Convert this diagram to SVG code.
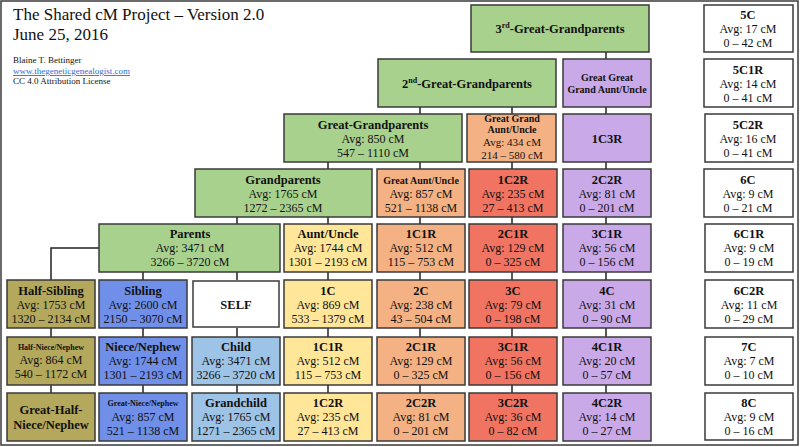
<svg xmlns="http://www.w3.org/2000/svg" width="800" height="447" viewBox="0 0 800 447">
<style>
text{font-family:"Liberation Serif","Times New Roman",serif;fill:#111;text-anchor:middle}
.b{font-weight:bold;font-size:12.5px}
.n{font-size:12px}
.t{font-size:11px}
.s{font-weight:bold;font-size:8px}
.m{font-weight:bold;font-size:10px}
rect{stroke:#3a3a3a;stroke-width:1.5}
.g{fill:#a9d18e}.o{fill:#b3a85c}.bl{fill:#6f8fe8}.lb{fill:#9dc3e6}.y{fill:#ffe699}.or{fill:#f4b183}.r{fill:#f07461}.p{fill:#c9a9e8}.w{fill:#fff}
#conn line,#conn path{stroke:#222;stroke-width:1.5;fill:none}
</style>
<rect x="1" y="1" width="797" height="444" fill="#fff" stroke="#444" stroke-width="1.5"/>
<g id="header">
<text x="13" y="20" style="text-anchor:start;font-size:17px">The Shared cM Project – Version 2.0</text>
<text x="13" y="40" style="text-anchor:start;font-size:17px">June 25, 2016</text>
<text x="13" y="63" style="text-anchor:start;font-size:9px">Blaine T. Bettinger</text>
<text x="13" y="74" style="text-anchor:start;font-size:9px;fill:#2a6fd6;text-decoration:underline">www.thegeneticgenealogist.com</text>
<text x="13" y="84" style="text-anchor:start;font-size:9px">CC 4.0 Attribution License</text>
</g>
<g id="conn">
<path d="M99 248H51V280"/>
<line x1="51" y1="328" x2="51" y2="337"/><line x1="51" y1="385" x2="51" y2="393"/>
<line x1="143" y1="272" x2="143" y2="280"/><line x1="143" y1="328" x2="143" y2="337"/><line x1="143" y1="385" x2="143" y2="393"/>
<line x1="237" y1="217" x2="237" y2="224"/><line x1="237" y1="272" x2="237" y2="280"/><line x1="237" y1="328" x2="237" y2="337"/><line x1="237" y1="385" x2="237" y2="393"/>
<line x1="328" y1="162" x2="328" y2="169"/><line x1="328" y1="217" x2="328" y2="224"/><line x1="328" y1="272" x2="328" y2="280"/><line x1="328" y1="328" x2="328" y2="337"/><line x1="328" y1="385" x2="328" y2="393"/>
<line x1="420" y1="107" x2="420" y2="114"/><line x1="420" y1="162" x2="420" y2="169"/><line x1="420" y1="217" x2="420" y2="224"/><line x1="420" y1="272" x2="420" y2="280"/><line x1="420" y1="328" x2="420" y2="337"/><line x1="420" y1="385" x2="420" y2="393"/>
<line x1="512" y1="107" x2="512" y2="114"/><line x1="512" y1="162" x2="512" y2="169"/><line x1="512" y1="217" x2="512" y2="224"/><line x1="512" y1="272" x2="512" y2="280"/><line x1="512" y1="328" x2="512" y2="337"/><line x1="512" y1="385" x2="512" y2="393"/>
<line x1="606" y1="52" x2="606" y2="59"/><line x1="606" y1="107" x2="606" y2="114"/><line x1="606" y1="162" x2="606" y2="169"/><line x1="606" y1="217" x2="606" y2="224"/><line x1="606" y1="272" x2="606" y2="280"/><line x1="606" y1="328" x2="606" y2="337"/><line x1="606" y1="385" x2="606" y2="393"/>
</g>
<g id="ggg3"><rect class="g" x="471" y="5" width="178" height="47"/><text class="b" x="560" y="33">3<tspan font-size="8" dy="-5">rd</tspan><tspan dy="5">-Great-Grandparents</tspan></text></g>
<g id="c5"><rect class="w" x="704" y="5" width="89" height="47"/><text class="b" x="748" y="19">5C</text><text class="n" x="748" y="33">Avg: 17 cM</text><text class="n" x="748" y="47">0 – 42 cM</text></g>
<g id="ggg2"><rect class="g" x="378" y="59" width="178" height="48"/><text class="b" x="467" y="88">2<tspan font-size="8" dy="-5">nd</tspan><tspan dy="5">-Great-Grandparents</tspan></text></g>
<g id="ggau"><rect class="p" x="563" y="59" width="88" height="48"/><text class="m" x="607" y="81">Great Great</text><text class="m" x="607" y="93">Grand Aunt/Uncle</text></g>
<g id="c5c1r"><rect class="w" x="704" y="59" width="89" height="48"/><text class="b" x="748" y="74">5C1R</text><text class="n" x="748" y="88">Avg: 14 cM</text><text class="n" x="748" y="102">0 – 41 cM</text></g>
<g id="gg"><rect class="g" x="284" y="114" width="178" height="48"/><text class="b" x="373" y="129">Great-Grandparents</text><text class="n" x="373" y="143">Avg: 850 cM</text><text class="n" x="373" y="157">547 – 1110 cM</text></g>
<g id="gga"><rect class="or" x="467" y="114" width="89" height="48"/><text class="m" x="512" y="122">Great Grand</text><text class="m" x="512" y="133">Aunt/Uncle</text><text class="t" x="512" y="146">Avg: 434 cM</text><text class="t" x="512" y="159">214 – 580 cM</text></g>
<g id="c1c3r"><rect class="p" x="563" y="114" width="88" height="48"/><text class="b" x="607" y="143">1C3R</text></g>
<g id="c5c2r"><rect class="w" x="705" y="114" width="88" height="48"/><text class="b" x="748" y="129">5C2R</text><text class="n" x="748" y="143">Avg: 16 cM</text><text class="n" x="748" y="157">0 – 41 cM</text></g>
<g id="gp"><rect class="g" x="195" y="169" width="177" height="48"/><text class="b" x="283" y="184">Grandparents</text><text class="n" x="283" y="198">Avg: 1765 cM</text><text class="n" x="283" y="212">1272 – 2365 cM</text></g>
<g id="ga"><rect class="or" x="377" y="169" width="88" height="48"/><text class="m" x="421" y="184">Great Aunt/Uncle</text><text class="n" x="421" y="198">Avg: 857 cM</text><text class="n" x="421" y="212">521 – 1138 cM</text></g>
<g id="d1c2r"><rect class="r" x="469" y="169" width="88" height="48"/><text class="b" x="513" y="184">1C2R</text><text class="n" x="513" y="198">Avg: 235 cM</text><text class="n" x="513" y="212">27 – 413 cM</text></g>
<g id="d2c2r"><rect class="p" x="563" y="169" width="88" height="48"/><text class="b" x="607" y="184">2C2R</text><text class="n" x="607" y="198">Avg: 81 cM</text><text class="n" x="607" y="212">0 – 201 cM</text></g>
<g id="c6"><rect class="w" x="704" y="169" width="89" height="48"/><text class="b" x="748" y="184">6C</text><text class="n" x="748" y="198">Avg: 9 cM</text><text class="n" x="748" y="212">0 – 21 cM</text></g>
<g id="par"><rect class="g" x="99" y="224" width="181" height="48"/><text class="b" x="190" y="238">Parents</text><text class="n" x="190" y="252">Avg: 3471 cM</text><text class="n" x="190" y="266">3266 – 3720 cM</text></g>
<g id="au"><rect class="y" x="284" y="224" width="88" height="48"/><text class="b" x="328" y="238">Aunt/Uncle</text><text class="n" x="328" y="252">Avg: 1744 cM</text><text class="n" x="328" y="266">1301 – 2193 cM</text></g>
<g id="e1c1r"><rect class="or" x="377" y="224" width="88" height="48"/><text class="b" x="421" y="238">1C1R</text><text class="n" x="421" y="252">Avg: 512 cM</text><text class="n" x="421" y="266">115 – 753 cM</text></g>
<g id="e2c1r"><rect class="r" x="469" y="224" width="88" height="48"/><text class="b" x="513" y="238">2C1R</text><text class="n" x="513" y="252">Avg: 129 cM</text><text class="n" x="513" y="266">0 – 325 cM</text></g>
<g id="e3c1r"><rect class="p" x="563" y="224" width="88" height="48"/><text class="b" x="607" y="238">3C1R</text><text class="n" x="607" y="252">Avg: 56 cM</text><text class="n" x="607" y="266">0 – 156 cM</text></g>
<g id="c6c1r"><rect class="w" x="705" y="224" width="88" height="48"/><text class="b" x="749" y="238">6C1R</text><text class="n" x="749" y="252">Avg: 9 cM</text><text class="n" x="749" y="266">0 – 19 cM</text></g>
<g id="hs"><rect class="o" x="7" y="280" width="88" height="48"/><text class="b" x="51" y="295">Half-Sibling</text><text class="n" x="51" y="309">Avg: 1753 cM</text><text class="n" x="51" y="323">1320 – 2134 cM</text></g>
<g id="sib"><rect class="bl" x="99" y="280" width="88" height="48"/><text class="b" x="143" y="295">Sibling</text><text class="n" x="143" y="309">Avg: 2600 cM</text><text class="n" x="143" y="323">2150 – 3070 cM</text></g>
<g id="self"><rect x="193" y="281" width="86" height="46" fill="#fff" stroke="#000" stroke-width="3"/><text class="b" x="236" y="309">SELF</text></g>
<g id="f1c"><rect class="y" x="284" y="280" width="88" height="48"/><text class="b" x="328" y="295">1C</text><text class="n" x="328" y="309">Avg: 869 cM</text><text class="n" x="328" y="323">533 – 1379 cM</text></g>
<g id="f2c"><rect class="or" x="377" y="280" width="88" height="48"/><text class="b" x="421" y="295">2C</text><text class="n" x="421" y="309">Avg: 238 cM</text><text class="n" x="421" y="323">43 – 504 cM</text></g>
<g id="f3c"><rect class="r" x="469" y="280" width="88" height="48"/><text class="b" x="513" y="295">3C</text><text class="n" x="513" y="309">Avg: 79 cM</text><text class="n" x="513" y="323">0 – 198 cM</text></g>
<g id="f4c"><rect class="p" x="563" y="280" width="88" height="48"/><text class="b" x="607" y="295">4C</text><text class="n" x="607" y="309">Avg: 31 cM</text><text class="n" x="607" y="323">0 – 90 cM</text></g>
<g id="c6c2r"><rect class="w" x="705" y="280" width="88" height="48"/><text class="b" x="749" y="295">6C2R</text><text class="n" x="749" y="309">Avg: 11 cM</text><text class="n" x="749" y="323">0 – 29 cM</text></g>
<g id="hn"><rect class="o" x="7" y="337" width="88" height="48"/><text class="s" x="51" y="350">Half-Niece/Nephew</text><text class="n" x="51" y="364">Avg: 864 cM</text><text class="n" x="51" y="378">540 – 1172 cM</text></g>
<g id="nn"><rect class="bl" x="99" y="337" width="88" height="48"/><text class="b" x="143" y="351">Niece/Nephew</text><text class="n" x="143" y="365">Avg: 1744 cM</text><text class="n" x="143" y="379">1301 – 2193 cM</text></g>
<g id="child"><rect class="lb" x="192" y="337" width="88" height="48"/><text class="b" x="236" y="351">Child</text><text class="n" x="236" y="365">Avg: 3471 cM</text><text class="n" x="236" y="379">3266 – 3720 cM</text></g>
<g id="g1c1r"><rect class="y" x="284" y="337" width="88" height="48"/><text class="b" x="328" y="351">1C1R</text><text class="n" x="328" y="365">Avg: 512 cM</text><text class="n" x="328" y="379">115 – 753 cM</text></g>
<g id="g2c1r"><rect class="or" x="377" y="337" width="88" height="48"/><text class="b" x="421" y="351">2C1R</text><text class="n" x="421" y="365">Avg: 129 cM</text><text class="n" x="421" y="379">0 – 325 cM</text></g>
<g id="g3c1r"><rect class="r" x="469" y="337" width="88" height="48"/><text class="b" x="513" y="351">3C1R</text><text class="n" x="513" y="365">Avg: 56 cM</text><text class="n" x="513" y="379">0 – 156 cM</text></g>
<g id="g4c1r"><rect class="p" x="563" y="337" width="88" height="48"/><text class="b" x="607" y="351">4C1R</text><text class="n" x="607" y="365">Avg: 20 cM</text><text class="n" x="607" y="379">0 – 57 cM</text></g>
<g id="c7"><rect class="w" x="705" y="337" width="88" height="48"/><text class="b" x="749" y="351">7C</text><text class="n" x="749" y="365">Avg: 7 cM</text><text class="n" x="749" y="379">0 – 10 cM</text></g>
<g id="ghn"><rect class="o" x="7" y="393" width="88" height="48"/><text class="b" x="51" y="414">Great-Half-</text><text class="b" x="51" y="429">Niece/Nephew</text></g>
<g id="gnn"><rect class="bl" x="99" y="393" width="88" height="48"/><text class="s" x="143" y="406">Great-Niece/Nephew</text><text class="n" x="143" y="421">Avg: 857 cM</text><text class="n" x="143" y="435">521 – 1138 cM</text></g>
<g id="gc"><rect class="lb" x="192" y="393" width="88" height="48"/><text class="b" x="236" y="407">Grandchild</text><text class="n" x="236" y="421">Avg: 1765 cM</text><text class="n" x="236" y="435">1271 – 2365 cM</text></g>
<g id="h1c2r"><rect class="y" x="284" y="393" width="88" height="48"/><text class="b" x="328" y="407">1C2R</text><text class="n" x="328" y="421">Avg: 235 cM</text><text class="n" x="328" y="435">27 – 413 cM</text></g>
<g id="h2c2r"><rect class="or" x="377" y="393" width="88" height="48"/><text class="b" x="421" y="407">2C2R</text><text class="n" x="421" y="421">Avg: 81 cM</text><text class="n" x="421" y="435">0 – 201 cM</text></g>
<g id="h3c2r"><rect class="r" x="469" y="393" width="88" height="48"/><text class="b" x="513" y="407">3C2R</text><text class="n" x="513" y="421">Avg: 36 cM</text><text class="n" x="513" y="435">0 – 82 cM</text></g>
<g id="h4c2r"><rect class="p" x="563" y="393" width="88" height="48"/><text class="b" x="607" y="407">4C2R</text><text class="n" x="607" y="421">Avg: 14 cM</text><text class="n" x="607" y="435">0 – 27 cM</text></g>
<g id="c8"><rect class="w" x="705" y="393" width="88" height="47"/><text class="b" x="749" y="407">8C</text><text class="n" x="749" y="421">Avg: 9 cM</text><text class="n" x="749" y="435">0 – 16 cM</text></g>
</svg>
